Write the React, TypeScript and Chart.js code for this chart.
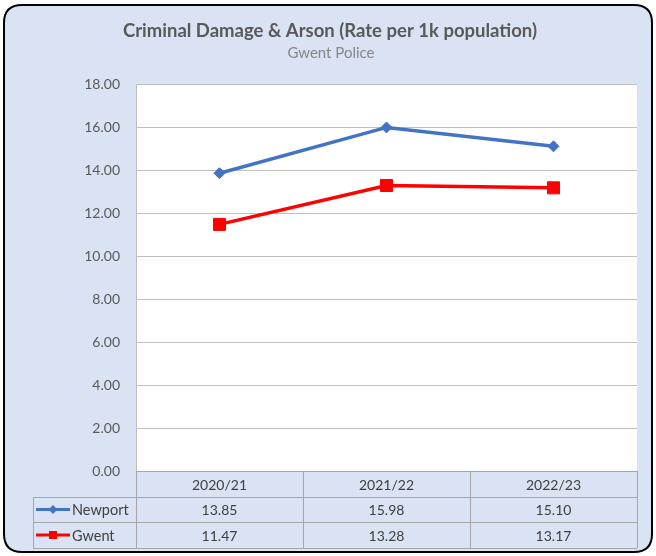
import React, { useEffect, useRef } from "react";
import { Chart, registerables } from "chart.js";

Chart.register(...registerables);

const categories = ["2020/21", "2021/22", "2022/23"];
const newportValues = [13.85, 15.98, 15.1];
const gwentValues = [11.47, 13.28, 13.17];
const seriesNames = ["Newport", "Gwent"];
const titleText = "Criminal Damage & Arson (Rate per 1k population)";
const subtitleText = "Gwent Police";

const FONT = "Lato";
const BG = "#dae3f3";
const BLUE = "#4472c4";
const RED = "#ff0000";

const framePlugin = {
  id: "framePlugin",
  beforeDraw(chart: any) {
    const { ctx, chartArea } = chart;
    ctx.save();
    ctx.fillStyle = "#ffffff";
    ctx.fillRect(0, 0, chart.width, chart.height);
    const x = 4, y = 5, w = 648, h = 547, r = 18;
    ctx.beginPath();
    ctx.moveTo(x + r, y);
    ctx.lineTo(x + w - r, y);
    ctx.quadraticCurveTo(x + w, y, x + w, y + r);
    ctx.lineTo(x + w, y + h - r);
    ctx.quadraticCurveTo(x + w, y + h, x + w - r, y + h);
    ctx.lineTo(x + r, y + h);
    ctx.quadraticCurveTo(x, y + h, x, y + h - r);
    ctx.lineTo(x, y + r);
    ctx.quadraticCurveTo(x, y, x + r, y);
    ctx.closePath();
    ctx.fillStyle = BG;
    ctx.fill();
    ctx.lineWidth = 2;
    ctx.strokeStyle = "#000000";
    ctx.stroke();
    ctx.fillStyle = "#ffffff";
    ctx.fillRect(chartArea.left, chartArea.top, chartArea.right - chartArea.left, chartArea.bottom - chartArea.top);
    ctx.restore();
  },
  afterDraw(chart: any) {
    const { ctx, chartArea, scales } = chart;
    const xs = scales.x;
    ctx.save();
    // Titles
    ctx.textAlign = "center";
    ctx.textBaseline = "middle";
    ctx.fillStyle = "#595959";
    ctx.font = `bold 18.5px ${FONT}`;
    ctx.fillText(titleText, 330, 31);
    ctx.fillStyle = "#868686";
    ctx.font = `15px ${FONT}`;
    ctx.fillText(subtitleText, 331, 53);

    // Data table
    const left = chartArea.left;
    const right = chartArea.right;
    const top = chartArea.bottom;
    const rowH = [26, 25, 26];
    const rowY = [top, top + rowH[0], top + rowH[0] + rowH[1], top + rowH[0] + rowH[1] + rowH[2]];
    const legendLeft = 33;
    const n = categories.length;
    const colW = (right - left) / n;
    ctx.strokeStyle = "#a6a6a6";
    ctx.lineWidth = 1;
    ctx.beginPath();
    ctx.moveTo(left, rowY[0] + 0.5); ctx.lineTo(right, rowY[0] + 0.5);
    for (let i = 1; i < 4; i++) {
      ctx.moveTo(legendLeft, Math.round(rowY[i]) + 0.5);
      ctx.lineTo(right, Math.round(rowY[i]) + 0.5);
    }
    for (let i = 0; i <= n; i++) {
      const vx = Math.round(left + i * colW) + 0.5;
      ctx.moveTo(vx, rowY[0]);
      ctx.lineTo(vx, rowY[3]);
    }
    ctx.moveTo(legendLeft + 0.5, rowY[1]);
    ctx.lineTo(legendLeft + 0.5, rowY[3]);
    ctx.stroke();

    ctx.fillStyle = "#404040";
    ctx.font = `14px ${FONT}`;
    ctx.textAlign = "center";
    ctx.textBaseline = "middle";
    const valueRows = [newportValues, gwentValues];
    for (let i = 0; i < n; i++) {
      const cx = xs.getPixelForValue(i);
      ctx.fillText(categories[i], cx, (rowY[0] + rowY[1]) / 2 + 1);
      ctx.fillText(valueRows[0][i].toFixed(2), cx, (rowY[1] + rowY[2]) / 2 + 1);
      ctx.fillText(valueRows[1][i].toFixed(2), cx, (rowY[2] + rowY[3]) / 2 + 1);
    }

    // Legend keys
    const colors = [BLUE, RED];
    ctx.font = `14.5px ${FONT}`;
    for (let s = 0; s < 2; s++) {
      const cy = (rowY[s + 1] + rowY[s + 2]) / 2;
      ctx.strokeStyle = colors[s];
      ctx.lineWidth = 3;
      ctx.beginPath();
      ctx.moveTo(36, cy);
      ctx.lineTo(70, cy);
      ctx.stroke();
      ctx.fillStyle = colors[s];
      if (s === 0) {
        ctx.beginPath();
        ctx.moveTo(53 - 4.5, cy);
        ctx.lineTo(53, cy - 4.5);
        ctx.lineTo(53 + 4.5, cy);
        ctx.lineTo(53, cy + 4.5);
        ctx.closePath();
        ctx.fill();
      } else {
        ctx.fillRect(49, cy - 4, 8, 8);
      }
      ctx.fillStyle = "#404040";
      ctx.textAlign = "left";
      ctx.fillText(seriesNames[s], 72, cy + 1);
    }
    ctx.restore();
  },
};

export default function App() {
  const canvasRef = useRef<HTMLCanvasElement | null>(null);
  useEffect(() => {
    const canvas = canvasRef.current;
    if (!canvas) return;
    const chart = new Chart(canvas, {
      type: "line",
      data: {
        labels: categories,
        datasets: [
          {
            label: seriesNames[0],
            data: newportValues,
            borderColor: BLUE,
            backgroundColor: BLUE,
            borderWidth: 3.5,
            pointStyle: "rectRot",
            pointRadius: 5.5,
            pointBorderWidth: 1,
            tension: 0,
          },
          {
            label: seriesNames[1],
            data: gwentValues,
            borderColor: RED,
            backgroundColor: RED,
            borderWidth: 3.5,
            pointStyle: "rect",
            pointRadius: 8.5,
            pointBorderWidth: 1,
            tension: 0,
          },
        ],
      },
      options: {
        responsive: false,
        animation: false,
        devicePixelRatio: 1,
        layout: { padding: { left: 0, right: 19, top: 84, bottom: 85 } },
        plugins: {
          legend: { display: false },
          title: { display: false },
          tooltip: { enabled: false },
        },
        scales: {
          x: {
            type: "category",
            offset: true,
            display: false,
          },
          y: {
            min: 0,
            max: 18,
            afterFit: (scale: any) => {
              scale.width = 136;
            },
            ticks: {
              stepSize: 2,
              padding: 16,
              color: "#595959",
              font: { family: FONT, size: 14 },
              callback: (v: any) => Number(v).toFixed(2),
            },
            grid: { color: "#bfbfbf", drawTicks: false, lineWidth: 1 },
            border: { display: true, color: "#bfbfbf" },
          },
        },
      },
      plugins: [framePlugin],
    });
    return () => chart.destroy();
  }, []);
  return (
    <div style={{ position: "absolute", left: 0, top: 0, width: 656, height: 556 }}>
      <canvas ref={canvasRef} width={656} height={556} />
    </div>
  );
}
